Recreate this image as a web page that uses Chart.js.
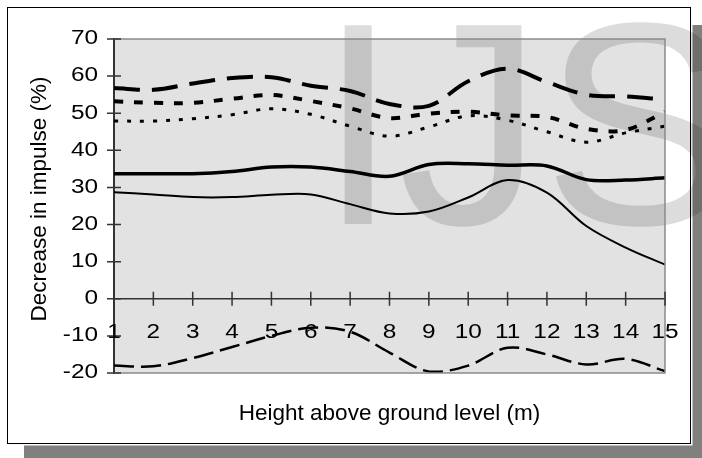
<!DOCTYPE html>
<html>
<head>
<meta charset="utf-8">
<script src="https://cdn.jsdelivr.net/npm/chart.js@4.4.1/dist/chart.umd.min.js"></script>
<style>
  html, body { margin: 0; padding: 0; background: #fff; }
  #wrap { width: 702px; height: 458px; }
</style>
</head>
<body>
<div id="wrap"><canvas id="chart" width="702" height="458"></canvas></div>
<script>
// heights above ground (m)
const heights = [1, 2, 3, 4, 5, 6, 7, 8, 9, 10, 11, 12, 13, 14, 15];

// decrease in impulse (%), one array per curve
const longDash   = [56.8, 56.3, 58.0, 59.5, 59.7, 57.4, 56.0, 52.5, 52.0, 58.6, 62.0, 58.4, 55.0, 54.5, 53.7];
const squareDash = [53.2, 52.8, 52.8, 53.9, 54.9, 53.3, 51.3, 48.7, 49.9, 50.4, 49.4, 49.0, 45.8, 45.5, 50.4];
const dotted     = [47.9, 47.9, 48.5, 49.6, 51.2, 49.7, 46.5, 43.8, 46.3, 49.3, 48.1, 45.0, 42.2, 44.7, 46.5];
const thickSolid = [33.7, 33.7, 33.7, 34.3, 35.5, 35.5, 34.3, 33.0, 36.2, 36.4, 36.0, 35.8, 32.1, 32.0, 32.6];
const thinSolid  = [28.7, 28.1, 27.4, 27.4, 28.0, 28.1, 25.5, 23.0, 23.5, 27.3, 32.0, 28.6, 19.6, 13.8, 9.2];
const dashed     = [-18.0, -18.2, -16.0, -13.0, -10.0, -7.8, -8.9, -14.5, -19.6, -18.0, -13.2, -15.0, -17.7, -16.2, -19.5];

// axis ticks
const yMin = -20, yMax = 70, yStep = 10;
const xMin = 1, xMax = 15, xStep = 1;

const yTitle = 'Decrease in impulse (%)';
const xTitle = 'Height above ground level (m)';

const toPoints = vals => vals.map((v, i) => ({ x: heights[i], y: v }));

const FONT = '"Liberation Sans", Arial, sans-serif';
Chart.defaults.font.family = FONT;
Chart.defaults.color = '#000';

// tick numbers in the original are a bit wider than plain Arial
function wideText(ctx, text, x, y, align) {
    ctx.save();
    ctx.translate(x, y);
    ctx.scale(1.25, 1);
    ctx.textAlign = align;
    ctx.textBaseline = 'middle';
    ctx.fillText(text, 0, 0);
    ctx.restore();
}

const framePlugin = {
    id: 'frame',
    beforeDraw(chart) {
        const ctx = chart.ctx, a = chart.chartArea;
        ctx.save();
        ctx.fillStyle = '#fff';
        ctx.fillRect(0, 0, chart.width, chart.height);
        // drop shadow + frame
        ctx.fillStyle = '#808080';
        ctx.fillRect(24, 25, chart.width - 24, chart.height - 25);
        ctx.fillStyle = '#fff';
        ctx.fillRect(0, 0, 692.5, 445.5);
        ctx.strokeStyle = '#000';
        ctx.lineWidth = 1;
        ctx.strokeRect(7.5, 7.5, 683, 436);
        // plot area
        ctx.fillStyle = '#e2e2e2';
        ctx.fillRect(a.left, a.top, a.width, a.height);
        ctx.restore();
    },
    beforeDatasetsDraw(chart) {
        // IJS watermark
        const ctx = chart.ctx;
        ctx.save();
        ctx.globalCompositeOperation = 'multiply';
        ctx.fillStyle = '#dcdcdc';
        ctx.font = '289px ' + FONT;
        ctx.textBaseline = 'alphabetic';
        ctx.fillText('IJS', 318, 224);
        ctx.restore();
    },
    afterDraw(chart) {
        const ctx = chart.ctx, a = chart.chartArea;
        const xs = chart.scales.x, ys = chart.scales.y;
        const y0 = ys.getPixelForValue(0);
        ctx.save();
        // plot border top / right / bottom
        ctx.strokeStyle = '#8a8a8a';
        ctx.lineWidth = 1.5;
        ctx.beginPath();
        ctx.moveTo(a.left, a.top);
        ctx.lineTo(a.right, a.top);
        ctx.lineTo(a.right, a.bottom);
        ctx.lineTo(a.left, a.bottom);
        ctx.stroke();
        // cross ticks
        ctx.strokeStyle = '#333';
        ctx.beginPath();
        xs.ticks.forEach(t => {
            const px = xs.getPixelForValue(t.value);
            ctx.moveTo(px, y0 - 7);
            ctx.lineTo(px, y0 + 7);
        });
        ys.ticks.forEach(t => {
            const py = ys.getPixelForValue(t.value);
            ctx.moveTo(a.left - 7, py);
            ctx.lineTo(a.left + 7, py);
        });
        ctx.stroke();
        // tick labels
        ctx.fillStyle = '#000';
        ctx.font = '19.5px ' + FONT;
        xs.ticks.forEach(t => wideText(ctx, t.label, xs.getPixelForValue(t.value), y0 + 34, 'center'));
        ys.ticks.forEach(t => wideText(ctx, t.label, a.left - 16, ys.getPixelForValue(t.value), 'right'));
        // y title
        ctx.font = '22.5px ' + FONT;
        ctx.translate(40, 199);
        ctx.rotate(-Math.PI / 2);
        ctx.textAlign = 'center';
        ctx.textBaseline = 'middle';
        ctx.fillText(yTitle, 0, 0);
        ctx.restore();
    }
};

const line = (vals, width, dash) => ({
    data: toPoints(vals),
    borderColor: '#000',
    borderWidth: width,
    borderDash: dash,
    borderCapStyle: 'butt',
    pointRadius: 0,
    tension: 0.35,
    fill: false
});

new Chart(document.getElementById('chart').getContext('2d'), {
    type: 'line',
    data: {
        datasets: [
            line(longDash, 4, [26, 12]),
            line(squareDash, 4, [9, 11]),
            line(dotted, 3, [4, 9]),
            line(thickSolid, 3.5, []),
            line(thinSolid, 2, []),
            line(dashed, 2.5, [20, 7])
        ]
    },
    options: {
        responsive: false,
        animation: false,
        devicePixelRatio: 1,
        layout: { padding: { left: 0, top: 39, right: 37, bottom: 31 } },
        plugins: { legend: { display: false }, tooltip: { enabled: false } },
        scales: {
            x: {
                type: 'linear',
                min: xMin,
                max: xMax,
                position: { y: 0 },
                ticks: { display: false, stepSize: xStep, autoSkip: false, maxTicksLimit: 50 },
                grid: { drawOnChartArea: false, drawTicks: false, color: 'rgba(0,0,0,0)' },
                border: { display: true, color: '#333', width: 1.5 }
            },
            x2: {
                type: 'linear',
                min: xMin,
                max: xMax,
                position: 'bottom',
                ticks: { display: false },
                grid: { display: false, drawTicks: false },
                border: { display: false },
                title: { display: true, text: xTitle, font: { size: 22.5 }, padding: { top: 0, bottom: 0 } },
                afterFit: s => { s.height = 54; }
            },
            y: {
                min: yMin,
                max: yMax,
                ticks: { display: false, stepSize: yStep },
                grid: { drawOnChartArea: false, drawTicks: false, color: 'rgba(0,0,0,0)' },
                border: { display: true, color: '#333', width: 2 },
                afterFit: s => { s.width = 114; }
            }
        }
    },
    plugins: [framePlugin]
});
</script>
</body>
</html>
